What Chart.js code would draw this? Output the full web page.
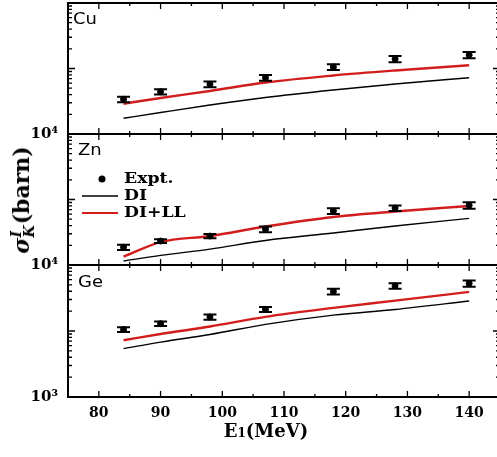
<!DOCTYPE html>
<html>
<head>
<meta charset="utf-8">
<script src="https://cdn.jsdelivr.net/npm/chart.js"></script>
<style>
  html, body { margin: 0; padding: 0; background: #fff; overflow: hidden; width: 497px; height: 457px; }
  .wrap { position: absolute; left: 0; top: 0; width: 501px; height: 457px; }
  .wrap canvas { display: block; }
  .ttl { position: absolute; font-family: "DejaVu Serif", serif; font-weight: bold; color: #000; white-space: nowrap; }
  #xtitle { left: 266px; top: 430px; font-size: 18px; transform: translate(-50%, -50%); }
  #xtitle .small { font-size: 12px; }
  #ytitle { left: 22px; top: 200px; font-size: 22px; transform: translate(-50%, -50%) rotate(-90deg); }
  #ytitle .ss { display: inline-block; vertical-align: middle; font-size: 14px; line-height: 13px; font-style: italic; margin-right: 1px; }
  #ytitle .ss span { display: block; }
</style>
</head>
<body>
<div class="wrap"><canvas id="cuChart" width="501" height="457"></canvas></div>
<div class="wrap"><canvas id="znChart" width="501" height="457"></canvas></div>
<div class="wrap"><canvas id="geChart" width="501" height="457"></canvas></div>
<div id="ytitle" class="ttl"><i>σ</i><span class="ss"><span>I</span><span>K</span></span>(barn)</div>
<div id="xtitle" class="ttl">E<span class="small">1</span>(MeV)</div>
<script>
// projectile energies (MeV)
var energies = [84, 90, 98, 107, 118, 128, 140];
var xTickLabels = [80, 90, 100, 110, 120, 130, 140];

// Cu
var cuExpt = [3.39e4, 4.42e4, 5.74e4, 7.24e4, 1.055e5, 1.40e5, 1.61e5];
var cuErr  = [0.33e4, 0.40e4, 0.57e4, 0.72e4, 1.10e4, 1.50e4, 1.70e4];
var cuDI   = [1.74e4, 2.13e4, 2.77e4, 3.61e4, 4.70e4, 5.80e4, 7.24e4];
var cuDILL = [2.90e4, 3.55e4, 4.53e4, 6.11e4, 7.82e4, 9.32e4, 1.119e5];

// Zn
var znExpt = [1.86e4, 2.32e4, 2.77e4, 3.51e4, 6.67e4, 7.41e4, 8.15e4];
var znErr  = [0.17e4, 0.16e4, 0.20e4, 0.35e4, 0.65e4, 0.72e4, 0.95e4];
var znDI   = [1.15e4, 1.40e4, 1.75e4, 2.37e4, 3.08e4, 3.94e4, 5.16e4];
var znDILL = [1.34e4, 2.24e4, 2.77e4, 3.87e4, 5.41e4, 6.56e4, 7.96e4];

// Ge
var geExpt = [1.054e4, 1.29e4, 1.63e4, 2.13e4, 3.97e4, 4.83e4, 5.26e4];
var geErr  = [0.09e4, 0.10e4, 0.15e4, 0.19e4, 0.40e4, 0.46e4, 0.58e4];
var geDI   = [5.41e3, 6.79e3, 8.85e3, 1.26e4, 1.74e4, 2.12e4, 2.85e4];
var geDILL = [7.24e3, 9.00e3, 1.17e4, 1.64e4, 2.24e4, 2.88e4, 3.91e4];

var xMin = 75, xMax = 145;
var serif = '"DejaVu Serif", "Liberation Serif", serif';
var red = '#d21d1d';

function pts(vals) {
    return energies.map(function (e, i) { return { x: e, y: vals[i] }; });
}

// box around the plot plus inward ticks on every side
var framePlugin = {
    id: 'frame',
    afterDraw: function (chart) {
        var a = chart.chartArea, ctx = chart.ctx;
        var xs = chart.scales.x, ys = chart.scales.y;
        ctx.save();
        ctx.strokeStyle = '#000';
        ctx.lineWidth = 1.3;
        ctx.beginPath();
        for (var v = xMin; v <= xMax; v += 5) {
            var px = xs.getPixelForValue(v);
            var len = v % 10 === 0 ? 6 : 3;
            ctx.moveTo(px, a.top); ctx.lineTo(px, a.top + len);
            ctx.moveTo(px, a.bottom); ctx.lineTo(px, a.bottom - len);
        }
        var e0 = Math.round(Math.log10(ys.min)), e1 = Math.round(Math.log10(ys.max));
        for (var e = e0; e < e1; e++) {
            for (var m = 1; m <= 9; m++) {
                var py = ys.getPixelForValue(m * Math.pow(10, e));
                var l = m === 1 ? 7 : 4;
                ctx.moveTo(a.left, py); ctx.lineTo(a.left + l, py);
                ctx.moveTo(a.right, py); ctx.lineTo(a.right - l, py);
            }
        }
        ctx.stroke();
        ctx.lineWidth = 2;
        ctx.strokeRect(a.left, a.top, a.right - a.left, a.bottom - a.top);
        ctx.restore();
    }
};

function errorBars(vals, errs) {
    return {
        id: 'errbars',
        afterDatasetsDraw: function (chart) {
            var ctx = chart.ctx, xs = chart.scales.x, ys = chart.scales.y;
            ctx.save();
            ctx.strokeStyle = '#000';
            energies.forEach(function (e, i) {
                var px = xs.getPixelForValue(e);
                var top = ys.getPixelForValue(vals[i] + errs[i]);
                var bot = ys.getPixelForValue(vals[i] - errs[i]);
                ctx.lineWidth = 1.2;
                ctx.beginPath();
                ctx.moveTo(px, top); ctx.lineTo(px, bot);
                ctx.stroke();
                ctx.lineWidth = 2;
                ctx.beginPath();
                ctx.moveTo(px - 6.5, top); ctx.lineTo(px + 6.5, top);
                ctx.moveTo(px - 6.5, bot); ctx.lineTo(px + 6.5, bot);
                ctx.stroke();
            });
            ctx.restore();
        }
    };
}

function panelLabel(name, dx, dy) {
    return {
        id: 'panelLabel',
        afterDraw: function (chart) {
            var a = chart.chartArea, ctx = chart.ctx;
            ctx.save();
            ctx.translate(a.left + dx, a.top + dy);
            ctx.scale(1.2, 1);
            ctx.font = '15px "DejaVu Sans", sans-serif';
            ctx.fillStyle = '#000';
            ctx.textBaseline = 'middle';
            ctx.fillText(name, 0, 0);
            ctx.restore();
        }
    };
}

// legend sits inside the Zn panel
var legendPlugin = {
    id: 'innerLegend',
    afterDraw: function (chart) {
        var ctx = chart.ctx;
        ctx.save();
        ctx.fillStyle = '#000';
        ctx.beginPath();
        ctx.arc(102, 179, 3.5, 0, Math.PI * 2);
        ctx.fill();
        ctx.strokeStyle = '#000';
        ctx.lineWidth = 1.4;
        ctx.beginPath(); ctx.moveTo(82, 196); ctx.lineTo(118, 196); ctx.stroke();
        ctx.strokeStyle = red;
        ctx.lineWidth = 2;
        ctx.beginPath(); ctx.moveTo(82, 213); ctx.lineTo(118, 213); ctx.stroke();
        ctx.font = 'bold 15px ' + serif;
        ctx.textBaseline = 'middle';
        [['Expt.', 179], ['DI', 196], ['DI+LL', 213]].forEach(function (r) {
            ctx.save();
            ctx.translate(124, r[1]);
            ctx.scale(1.15, 1);
            ctx.fillText(r[0], 0, 0);
            ctx.restore();
        });
        ctx.restore();
    }
};

function makePanel(id, o) {
    var plugins = [framePlugin, errorBars(o.expt, o.err), panelLabel(o.name, o.dx, o.dy)];
    if (o.legend) plugins.push(legendPlugin);
    return new Chart(document.getElementById(id), {
        type: 'line',
        data: {
            datasets: [
                { label: 'Expt.', data: pts(o.expt), showLine: false, pointRadius: 3,
                  pointBackgroundColor: '#000', pointBorderColor: '#000', borderColor: '#000' },
                { label: 'DI', data: pts(o.di), borderColor: '#000', borderWidth: 1.4,
                  pointRadius: 0, cubicInterpolationMode: 'monotone' },
                { label: 'DI+LL', data: pts(o.dill), borderColor: red, borderWidth: 2.4,
                  pointRadius: 0, cubicInterpolationMode: 'monotone' }
            ]
        },
        options: {
            responsive: false,
            animation: false,
            events: [],
            layout: { autoPadding: false, padding: { top: o.top, bottom: o.showX ? 0 : 457 - o.bottom, left: 0, right: 1 } },
            plugins: { legend: { display: false }, tooltip: { enabled: false } },
            scales: {
                x: {
                    type: 'linear', min: xMin, max: xMax,
                    afterBuildTicks: function (s) {
                        s.ticks = xTickLabels.map(function (v) { return { value: v }; });
                    },
                    afterFit: function (s) { s.height = o.showX ? 457 - o.bottom : 0; },
                    grid: { display: false, drawTicks: false },
                    border: { display: false },
                    ticks: {
                        display: !!o.showX, autoSkip: false, maxRotation: 0, padding: 8,
                        color: '#000', font: { family: serif, size: 14, weight: 'bold' }
                    }
                },
                y: {
                    type: 'logarithmic', min: o.min, max: o.max,
                    // only the lowest decade carries a label
                    afterBuildTicks: function (s) { s.ticks = [{ value: o.min }]; },
                    afterFit: function (s) { s.width = 68; },
                    grid: { display: false, drawTicks: true, tickLength: 10 },
                    border: { display: false },
                    ticks: {
                        autoSkip: false, padding: 0, color: '#000',
                        font: { family: serif, size: 15, weight: 'bold', lineHeight: 0.2 },
                        callback: function () { return o.minLabel; }
                    }
                }
            }
        },
        plugins: plugins
    });
}

makePanel('cuChart', { name: 'Cu', dx: 5, dy: 17, top: 3, bottom: 134, min: 1e4, max: 1e6, minLabel: '10⁴',
    expt: cuExpt, err: cuErr, di: cuDI, dill: cuDILL });
makePanel('znChart', { name: 'Zn', dx: 10, dy: 17, top: 134, bottom: 265, min: 1e4, max: 1e6, minLabel: '10⁴',
    expt: znExpt, err: znErr, di: znDI, dill: znDILL, legend: true });
makePanel('geChart', { name: 'Ge', dx: 10, dy: 18, top: 265, bottom: 397, min: 1e3, max: 1e5, minLabel: '10³',
    expt: geExpt, err: geErr, di: geDI, dill: geDILL, showX: true });
</script>
</body>
</html>
